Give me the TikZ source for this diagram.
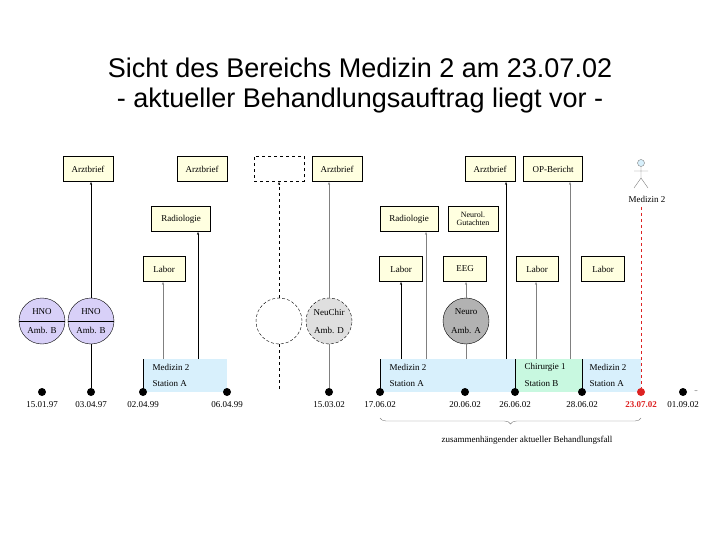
\documentclass[tikz,border=0pt]{standalone}
\usepackage{fontspec}
\setmainfont{Liberation Serif}
\newfontfamily\titlefont{Liberation Sans}
\usetikzlibrary{decorations.pathreplacing,arrows.meta}
\definecolor{ybox}{HTML}{FFFFE0}
\definecolor{bband}{HTML}{D8F0FC}
\definecolor{gband}{HTML}{C8F8E0}
\definecolor{lav}{HTML}{D8D0F8}
\definecolor{mred}{HTML}{DD2222}
\begin{document}
\begin{tikzpicture}[x=1pt,y=-1pt,
  doc/.style={fill=ybox,draw=black,line width=0.5pt,minimum width=#1,minimum height=25pt,inner sep=1pt,font=\fontsize{9}{10}\selectfont},
  doc/.default=50pt,
  circ/.style={circle,minimum size=46pt,inner sep=0pt,draw=black,densely dashed,line width=0.4pt},
  btxt/.style={anchor=west,font=\fontsize{9}{10}\selectfont},
  ctxt/.style={font=\fontsize{9}{10}\selectfont},
  date/.style={font=\fontsize{9}{10}\selectfont},
  dot/.style={circle,fill=black,inner sep=0pt,minimum size=8pt},
  con/.style={-{Stealth[length=3pt,width=2pt]},line width=0.5pt},
  gcon/.style={con,draw=gray}]
\useasboundingbox (0,0) rectangle (720,540);
\node[font=\titlefont\fontsize{27}{30}\selectfont] (t1) at (360,68) {Sicht des Bereichs Medizin 2 am 23.07.02};
\node[font=\titlefont\fontsize{27}{30}\selectfont] (t2) at (360,101) {- aktueller Behandlungsauftrag liegt vor -};
% bands
\fill[bband] (143,359) rectangle (227,392);
\fill[bband] (380,359) rectangle (515,392);
\fill[gband] (515,359) rectangle (582,392);
\fill[bband] (582,359) rectangle (641,392);
\draw (143,359)--(143,392); \draw (380,359)--(380,392); \draw (515,359)--(515,392); \draw (582,359)--(582,392);
\node[btxt] (b1a) at (149,367) {Medizin 2}; \node[btxt] (b1b) at (149,384) {Station A};
\node[btxt] (b2a) at (386,367) {Medizin 2}; \node[btxt] (b2b) at (386,384) {Station A};
\node[btxt] (b3a) at (521,367) {Chirurgie 1}; \node[btxt] (b3b) at (521,384) {Station B};
\node[btxt] (b4a) at (586,367) {Medizin 2}; \node[btxt] (b4b) at (586,384) {Station A};
\coordinate (m1) at (163,359); \coordinate (m2) at (198,359);
\coordinate (m3) at (401,359); \coordinate (m4) at (426,359);
\coordinate (m5) at (506,359); \coordinate (m6) at (536,359);
\coordinate (m7) at (570,359); \coordinate (m8) at (466,359);
% docs
\node[doc] (a1) at (88,169) {Arztbrief};
\node[doc] (a2) at (202,169) {Arztbrief};
\node[doc,draw=black,dashed,fill=white] (a3) at (279,169) {};
\node[doc] (a4) at (337,169) {Arztbrief};
\node[doc=59pt] (r1) at (181,219) {Radiologie};
\node[doc=42pt] (l1) at (164,269) {Labor};
\node[doc=58pt] (r2) at (409,219) {Radiologie};
\node[doc,align=center,font=\fontsize{8}{8}\selectfont] (ng) at (473,219) {Neurol.\\Gutachten};
\node[doc=43pt] (l2) at (401,269) {Labor};
\node[doc=43pt] (eeg) at (465,269) {EEG};
\node[doc=42pt] (l3) at (537,269) {Labor};
\node[doc=43pt] (l4) at (603,269) {Labor};
\node[doc] (a5) at (490,169) {Arztbrief};
\node[doc=59pt] (op) at (553,169) {OP-Bericht};
% circles
\node[circ,fill=lav,solid] (h1) at (42,321) {};
\node[circ,fill=lav,solid] (h2) at (91,321) {};
\draw (h1.west)--(h1.east); \draw (h2.west)--(h2.east);
\node[ctxt] (h1a) at (42,312) {HNO}; \node[ctxt] (h1b) at (42,330) {Amb. B};
\node[ctxt] (h2a) at (91,312) {HNO}; \node[ctxt] (h2b) at (91,330) {Amb. B};
\node[circ,fill=white] (dc) at (279,321) {};
\node[circ,fill=gray!25] (nc) at (329,321) {};
\node[ctxt] (nca) at (329,312) {NeuChir}; \node[ctxt] (ncb) at (329,330) {Amb. D};
\node[circ,solid,fill=gray!60] (na) at (466,321) {};
\node[ctxt] (naa) at (466,312) {Neuro}; \node[ctxt] (nab) at (466,330) {Amb. A};
% dots and dates
\foreach \n/\x/\d in {d1/42/15.01.97,d2/91/03.04.97,d3/143/02.04.99,d4/227/06.04.99,d5/329/15.03.02,d6/380/17.06.02,d7/465/20.06.02,d8/515/26.06.02,d9/582/28.06.02,d11/683/01.09.02}{
  \node[dot] (\n) at (\x,392) {};
  \node[date] at (\x,405) {\d};}
\node[dot,fill=mred] (d10) at (641,392) {};
\node[date,text=mred,font=\bfseries\fontsize{9}{10}\selectfont] (d10t) at (641,405) {23.07.02};
\node[font=\fontsize{7}{8}\selectfont] (dd) at (696,391) {..};
% actor
\coordinate (hd) at (641,163);
\draw[fill=bband,draw=gray] (hd) circle (3.5pt);
\draw[gray] (641,167)--(641,178) (634,171)--(648,171) (641,178)--(634,188) (641,178)--(648,188);
\node[date] (act) at (647,199) {Medizin 2};
% connectors
\draw[con] (h2)--(a1.south -| h2);
\draw (h2)--(d2);
\draw[gcon] (m1)--(m1 |- l1.south);
\draw[con] (m2)--(m2 |- r1.south);
\draw[dashed,con] (dc)--(a3);
\draw[dashed] (dc)--(279,392);
\draw[gcon] (nc)--(nc |- a4.south);
\draw[gray] (nc)--(d5);
\draw[con] (m3)--(m3 |- l2.south);
\draw[gcon] (m4)--(m4 |- r2.south);
\draw[gcon] (na)--(na |- eeg.south);
\draw[gray] (na)--(m8);
\draw[con] (m5)--(m5 |- a5.south);
\draw[gcon] (m6)--(m6 |- l3.south);
\draw[gcon] (m7)--(m7 |- op.south);
\draw[draw=mred,dashed,line width=1pt] (641,207)--(d10.north);
% brace
\draw[gray,decorate,decoration={brace,mirror,amplitude=6pt}] (380,418)--(641,418);
\node[date] (bt) at (527,440) {zusammenhängender aktueller Behandlungsfall};
\end{tikzpicture}
\end{document}
